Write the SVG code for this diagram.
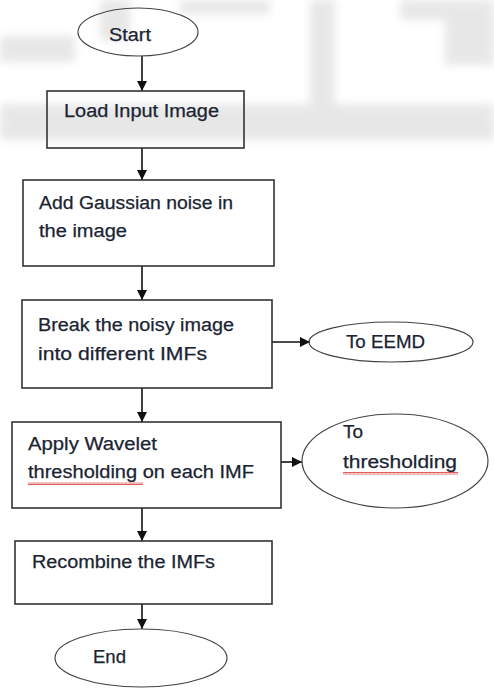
<svg xmlns="http://www.w3.org/2000/svg" width="494" height="691" viewBox="0 0 494 691">
<defs>
<marker id="ah" markerWidth="10" markerHeight="10" refX="10" refY="5" orient="auto" markerUnits="userSpaceOnUse">
<path d="M0,0 L10,5 L0,10 Z" fill="#111"/>
</marker>
<filter id="blur" x="-20%" y="-20%" width="140%" height="140%"><feGaussianBlur stdDeviation="4"/></filter>
<pattern id="squig" width="4" height="3" patternUnits="userSpaceOnUse"><path d="M0,2.5 L1,0.5 L2,2.5 L3,0.5 L4,2.5" fill="none" stroke="#e03030" stroke-width="0.8"/></pattern>
</defs>
<style>
.box{fill:none;stroke:#333;stroke-width:1.6}
.ell{fill:none;stroke:#444;stroke-width:1.2}
.t{font-family:"Liberation Sans",Arial,sans-serif;font-size:18px;fill:#1a2432;stroke:#1a2432;stroke-width:0.25}
.c{stroke:#111;stroke-width:1.6;fill:none}
</style>
<rect width="494" height="691" fill="#fff"/>
<g id="watermark" fill="#e2e2e2" filter="url(#blur)" opacity="0.8">
<rect x="0" y="104" width="494" height="36"/>
<rect x="0" y="36" width="75" height="26"/>
<rect x="100" y="0" width="30" height="40"/>
<rect x="180" y="0" width="90" height="14"/>
<rect x="310" y="0" width="25" height="105"/>
<rect x="400" y="0" width="94" height="20"/>
<rect x="445" y="20" width="49" height="45"/>
</g>
<g id="connectors">
<line class="c" x1="142" y1="56" x2="142" y2="91" marker-end="url(#ah)"/>
<line class="c" x1="142" y1="148" x2="142" y2="180" marker-end="url(#ah)"/>
<line class="c" x1="142" y1="266" x2="142" y2="300" marker-end="url(#ah)"/>
<line class="c" x1="272" y1="342" x2="310" y2="342" marker-end="url(#ah)"/>
<line class="c" x1="142" y1="388" x2="142" y2="422" marker-end="url(#ah)"/>
<line class="c" x1="281" y1="462" x2="302" y2="462" marker-end="url(#ah)"/>
<line class="c" x1="142" y1="508" x2="142" y2="541" marker-end="url(#ah)"/>
<line class="c" x1="142" y1="604" x2="142" y2="629" marker-end="url(#ah)"/>
</g>
<g id="start">
<ellipse class="ell" cx="138" cy="32" rx="60" ry="24"/>
<text class="t" x="109" y="41" textLength="42" lengthAdjust="spacingAndGlyphs">Start</text>
</g>
<g id="load">
<rect class="box" x="47" y="91" width="197" height="57"/>
<text class="t" x="64" y="117" textLength="155" lengthAdjust="spacingAndGlyphs">Load Input Image</text>
</g>
<g id="noise">
<rect class="box" x="23" y="180" width="251" height="86"/>
<text class="t" x="39" y="209" textLength="194" lengthAdjust="spacingAndGlyphs">Add Gaussian noise in</text>
<text class="t" x="39" y="237" textLength="88" lengthAdjust="spacingAndGlyphs">the image</text>
</g>
<g id="break">
<rect class="box" x="22" y="300" width="250" height="88"/>
<text class="t" x="38" y="331" textLength="196" lengthAdjust="spacingAndGlyphs">Break the noisy image</text>
<text class="t" x="38" y="360" textLength="169" lengthAdjust="spacingAndGlyphs">into different IMFs</text>
</g>
<g id="eemd">
<ellipse class="ell" cx="391" cy="342" rx="82" ry="20"/>
<text class="t" x="346" y="348" textLength="79" lengthAdjust="spacingAndGlyphs">To EEMD</text>
</g>
<g id="wavelet">
<rect class="box" x="12" y="422" width="269" height="86"/>
<text class="t" x="28" y="450" textLength="129" lengthAdjust="spacingAndGlyphs">Apply Wavelet</text>
<text class="t" x="28" y="478" textLength="226" lengthAdjust="spacingAndGlyphs">thresholding on each IMF</text>
<rect x="28" y="482" width="115" height="3" fill="url(#squig)"/>
</g>
<g id="thresholding">
<ellipse class="ell" cx="395" cy="461" rx="93" ry="47"/>
<text class="t" x="343" y="438" textLength="20" lengthAdjust="spacingAndGlyphs">To</text>
<text class="t" x="343" y="468" textLength="114" lengthAdjust="spacingAndGlyphs">thresholding</text>
<rect x="343" y="472" width="115" height="3" fill="url(#squig)"/>
</g>
<g id="recombine">
<rect class="box" x="15" y="541" width="257" height="63"/>
<text class="t" x="32" y="568" textLength="183" lengthAdjust="spacingAndGlyphs">Recombine the IMFs</text>
</g>
<g id="end">
<ellipse class="ell" cx="141" cy="658" rx="86" ry="29"/>
<text class="t" x="93" y="663" textLength="33" lengthAdjust="spacingAndGlyphs">End</text>
</g>
</svg>
